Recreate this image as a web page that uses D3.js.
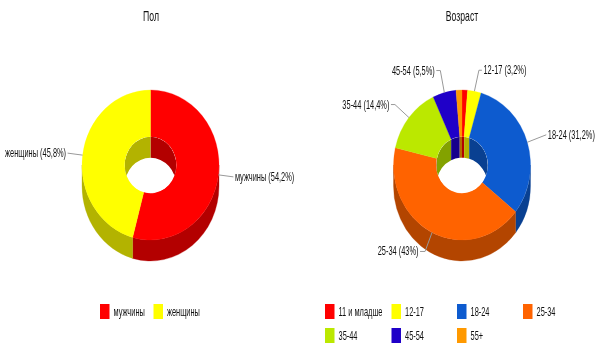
<!DOCTYPE html>
<html>
<head>
<meta charset="utf-8">
<script src="https://cdn.jsdelivr.net/npm/d3@7"></script>
<style>
    html, body { margin: 0; padding: 0; background: #fff; }
    svg { display: block; filter: blur(0.35px); }
    text { font-family: "Liberation Sans", Arial, sans-serif; fill: #111; }
</style>
</head>
<body>
<div id="chart"></div>
<script>
const genderLabels = ['мужчины', 'женщины'];
const genderValues = [54.2, 45.8];
const genderColors = ['#ff0000', '#ffff00'];

const ageLabels = ['11 и младше', '12-17', '18-24', '25-34', '35-44', '45-54', '55+'];
const ageValues = [1.3, 3.2, 31.2, 43, 14.4, 5.5, 1.4];
const ageColors = ['#ff0000', '#ffff00', '#0d5bcf', '#ff6300', '#bbe800', '#1f00c8', '#ff9900'];

const width = 611, height = 354;
const rx = 68.5, ry = 75, depth = 21, holeRatio = 0.377;
const textSquash = 0.62;

const svg = d3.select('#chart').append('svg')
    .attr('width', width)
    .attr('height', height);

// the reference text is squeezed horizontally
function addText(x, y, str, size, anchor) {
    return svg.append('text')
        .attr('transform', `translate(${x},${y}) scale(${textSquash},1)`)
        .attr('text-anchor', anchor || 'start')
        .style('font-size', size + 'px')
        .text(str);
}

function drawPie(id, cx, cy, labels, values, colors, leaders) {
    const slices = d3.pie().sort(null)(values);
    const g = svg.append('g').attr('class', id);
    const hx = rx * holeRatio, hy = ry * holeRatio;

    const pt = (a, k) => [cx + rx * k * Math.sin(a), cy - ry * k * Math.cos(a)];

    // extruded band between two angles on an ellipse of scale k
    const band = (a0, a1, k) => {
        const p0 = pt(a0, k), p1 = pt(a1, k);
        const large = a1 - a0 > Math.PI ? 1 : 0;
        const ex = rx * k, ey = ry * k;
        return `M${p0[0]},${p0[1]}A${ex},${ey} 0 ${large} 1 ${p1[0]},${p1[1]}` +
            `L${p1[0]},${p1[1] + depth}A${ex},${ey} 0 ${large} 0 ${p0[0]},${p0[1] + depth}Z`;
    };

    // outer wall, only the front half shows
    slices.forEach((s, i) => {
        const a0 = Math.max(s.startAngle, Math.PI / 2);
        const a1 = Math.min(s.endAngle, Math.PI * 1.5);
        if (a1 <= a0) return;
        g.append('path')
            .attr('d', band(a0, a1, 1))
            .attr('fill', d3.rgb(colors[i]).darker(1))
            .attr('stroke', d3.rgb(colors[i]).darker(1))
            .attr('stroke-width', 0.3);
    });

    // top face
    const arc = d3.arc().outerRadius(ry).innerRadius(ry * holeRatio);
    const face = g.append('g')
        .attr('transform', `translate(${cx},${cy}) scale(${rx / ry},1)`);
    face.selectAll('path')
        .data(slices)
        .join('path')
        .attr('d', arc)
        .attr('fill', (d, i) => colors[i])
        .attr('stroke', (d, i) => colors[i])
        .attr('stroke-width', 0.3);

    // inner wall of the hole, back half only
    g.append('clipPath').attr('id', id + '-hole')
        .append('ellipse')
        .attr('cx', cx).attr('cy', cy)
        .attr('rx', hx).attr('ry', hy);
    const inner = g.append('g').attr('clip-path', `url(#${id}-hole)`);
    inner.append('ellipse')
        .attr('cx', cx).attr('cy', cy)
        .attr('rx', hx).attr('ry', hy)
        .attr('fill', '#fff');
    const backRanges = [[0, Math.PI / 2], [Math.PI * 1.5, Math.PI * 2]];
    slices.forEach((s, i) => {
        backRanges.forEach(([lo, hi]) => {
            const a0 = Math.max(s.startAngle, lo);
            const a1 = Math.min(s.endAngle, hi);
            if (a1 <= a0) return;
            inner.append('path')
                .attr('d', band(a0, a1, holeRatio))
                .attr('fill', d3.rgb(colors[i]).darker(1));
        });
    });

    // leader lines and slice labels
    slices.forEach((s, i) => {
        const l = leaders[i];
        if (!l) return;
        const mid = (s.startAngle + s.endAngle) / 2;
        const p = pt(mid, 1);
        const leftSide = l.dx + l.run < 0;
        g.append('path')
            .attr('d', d3.line()([p, [p[0] + l.dx, p[1] + l.dy], [p[0] + l.dx + l.run, p[1] + l.dy]]))
            .attr('fill', 'none')
            .attr('stroke', '#999')
            .attr('stroke-width', 1);
        const text = `${labels[i]} (${String(values[i]).replace('.', ',')}%)`;
        addText(p[0] + l.dx + l.run + (leftSide ? -1.5 : 1.5), p[1] + l.dy + 4, text, 12, leftSide ? 'end' : 'start');
    });
}

function drawLegend(labels, colors, xs, rows) {
    labels.forEach((label, i) => {
        const col = i % xs.length;
        const row = Math.floor(i / xs.length);
        svg.append('rect')
            .attr('x', xs[col]).attr('y', rows[row])
            .attr('width', 9.5).attr('height', 15)
            .attr('fill', colors[i]);
        addText(xs[col] + 13.5, rows[row] + 11.5, label, 12);
    });
}

addText(151, 21, 'Пол', 14, 'middle');
addText(462, 21, 'Возраст', 14, 'middle');

drawPie('gender', 150.5, 165, genderLabels, genderValues, genderColors, [
    {dx: 15, dy: 2, run: 0},
    {dx: -15, dy: -2, run: 0}
]);
drawPie('age', 462, 165, ageLabels, ageValues, ageColors, [
    null,
    {dx: 4.5, dy: -21, run: 3},
    {dx: 19, dy: -7.5, run: 0},
    {dx: -7, dy: 19, run: -5},
    {dx: -14, dy: -13, run: -4},
    {dx: -4, dy: -22, run: -4},
    null
]);

drawLegend(genderLabels, genderColors, [100, 153.5], [304]);
drawLegend(ageLabels, ageColors, [325, 391.5, 457, 523], [304, 328]);
</script>
</body>
</html>
